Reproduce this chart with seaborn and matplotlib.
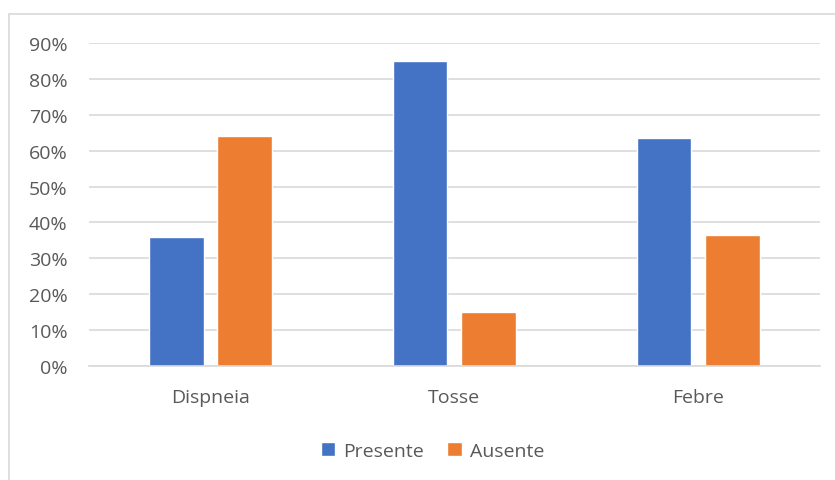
import matplotlib
matplotlib.use("Agg")
import matplotlib.pyplot as plt
import matplotlib.patches as mpatches
from matplotlib.ticker import PercentFormatter
import seaborn as sns
import pandas as pd

categorias = ["Dispneia", "Tosse", "Febre"]
presente = [0.36, 0.85, 0.635]
ausente = [0.64, 0.15, 0.365]
series = ["Presente", "Ausente"]
cores = ["#4472C4", "#ED7D31"]

df = pd.DataFrame({
    "sintoma": categorias * 2,
    "valor": presente + ausente,
    "grupo": [series[0]] * 3 + [series[1]] * 3,
})

sns.set_theme(style="white")
plt.rcParams["font.family"] = ["Open Sans", "DejaVu Sans"]

fig = plt.figure(figsize=(8.35, 4.81), dpi=100)
ax = fig.add_axes([0.106, 0.237, 0.876, 0.6715])

# moldura cinza do gráfico (cortada à direita e em baixo)
fig.patches.append(mpatches.Rectangle((9 / 835, -0.05), 1.2, 1 - 15 / 481 + 0.05,
                                      transform=fig.transFigure, fill=False,
                                      edgecolor="#d9d9d9", linewidth=1.2))

sns.barplot(data=df, x="sintoma", y="valor", hue="grupo", palette=cores,
            width=0.56, gap=0.2, ax=ax, saturation=1)

ax.set_ylim(0, 0.9)
ax.set_xlim(-0.5, 2.5)
ax.set_yticks([i / 10 for i in range(10)])
ax.yaxis.set_major_formatter(PercentFormatter(1.0, decimals=0))
ax.yaxis.grid(True, color="#d9d9d9", linewidth=1.2)
ax.set_axisbelow(True)
for s in ["top", "right", "left"]:
    ax.spines[s].set_visible(False)
ax.spines["bottom"].set_color("#d9d9d9")
ax.spines["bottom"].set_linewidth(1.2)
ax.tick_params(axis="both", length=0, labelsize=14, colors="#595959")
ax.tick_params(axis="y", pad=15)
ax.tick_params(axis="x", pad=16)
ax.set_xlabel("")
ax.set_ylabel("")

ax.legend(loc="upper center", bbox_to_anchor=(0.47, -0.18), ncol=2, frameon=False,
          fontsize=14, labelcolor="#595959", handlelength=0.75, handleheight=0.75,
          handletextpad=0.4, columnspacing=1.2)

fig.savefig("out.png", dpi=100, facecolor="white")
